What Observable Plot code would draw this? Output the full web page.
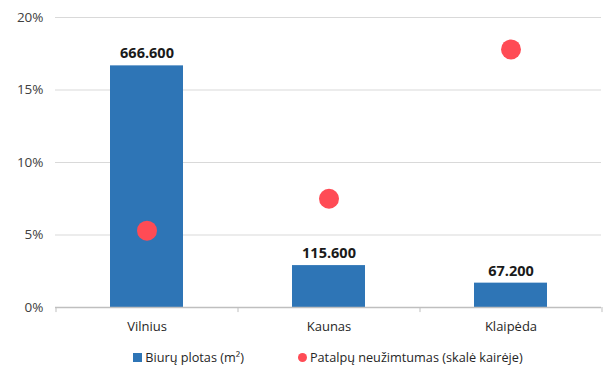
<!DOCTYPE html>
<html>
<head>
<meta charset="utf-8">
<script src="https://cdn.jsdelivr.net/npm/d3@7"></script>
<script src="https://cdn.jsdelivr.net/npm/@observablehq/plot@0.6"></script>
<style>
  html, body { margin: 0; padding: 0; background: #fff; }
  body { width: 606px; height: 367px; overflow: hidden; font-family: "Open Sans", sans-serif; }
  #legend { display: flex; justify-content: center; align-items: center; padding-left: 55px; padding-right: 5px;
    font-size: 12.7px; color: #262626; height: 20px; margin-top: 9px; }
  .item { display: flex; align-items: center; margin: 0 27px; }
  .sq { width: 9px; height: 9px; background: #2E75B6; margin-right: 3px; }
  .ci { width: 9px; height: 9px; border-radius: 50%; background: #FF4B55; margin-right: 3px; }
</style>
</head>
<body>
<div id="chart"></div>
<div id="legend">
  <div class="item"><span class="sq"></span><span>Biurų plotas (m²)</span></div>
  <div class="item"><span class="ci"></span><span>Patalpų neužimtumas (skalė kairėje)</span></div>
</div>
<script>
const cities = ["Vilnius", "Kaunas", "Klaipėda"];
const officeArea = [666600, 115600, 67200];          // m²
const areaLabels = ["666.600", "115.600", "67.200"];
const vacancy = [0.053, 0.075, 0.178];               // share
const yTicks = [0, 0.05, 0.10, 0.15, 0.20];
const secondaryMax = 800000;                          // secondary axis max (maps to 20%)

const rows = cities.map((c, i) => ({
  city: c, area: officeArea[i], label: areaLabels[i], vac: vacancy[i],
  areaScaled: officeArea[i] / secondaryMax * 0.2
}));

const chart = Plot.plot({
  width: 606,
  height: 338,
  marginLeft: 55,
  marginRight: 5,
  marginTop: 17,
  marginBottom: 31,
  style: { fontFamily: "Open Sans, sans-serif", fontSize: "13px", color: "#404040", overflow: "visible" },
  x: { domain: cities, paddingInner: 0.6, paddingOuter: 0.3, label: null },
  y: { domain: [0, 0.2], label: null },
  marks: [
    Plot.gridY(yTicks, { stroke: "#d9d9d9", strokeOpacity: 1 }),
    Plot.axisY(yTicks, { tickFormat: d => Math.round(d * 100) + "%", tickSize: 0, tickPadding: 12, fontSize: 13.5, fill: "#404040" }),
    Plot.axisX({ tickSize: 0, tickPadding: 14, fontSize: 13, fill: "#262626" }),
    Plot.barY(rows, { x: "city", y: "areaScaled", fill: "#2E75B6" }),
    Plot.ruleY([0], { stroke: "#bfbfbf", strokeWidth: 1.3 }),
    Plot.ruleX(rows, { x: "city", dx: -91, y1: 0, y2: -0.0035, stroke: "#bfbfbf", clip: false }),
    Plot.ruleX(rows.slice(-1), { x: "city", dx: 91, y1: 0, y2: -0.0035, stroke: "#bfbfbf", clip: false }),
    Plot.text(rows, { x: "city", y: "areaScaled", text: "label", dy: -12, fontWeight: "bold", fontSize: 14.5, fill: "#1a1a1a" }),
    Plot.dot(rows, { x: "city", y: "vac", r: 10, fill: "#FF4B55", stroke: "none" })
  ]
});
document.getElementById("chart").appendChild(chart);
</script>
</body>
</html>
